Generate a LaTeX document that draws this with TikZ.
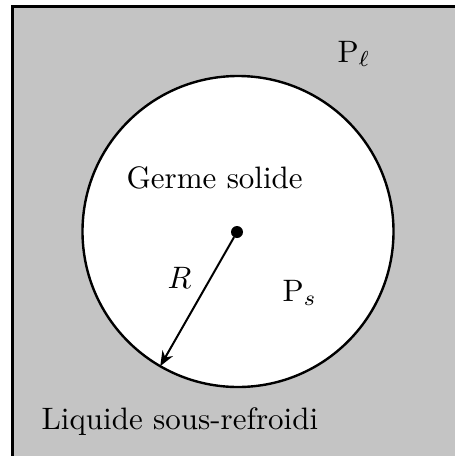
\documentclass[tikz,border=0pt]{standalone}
\usetikzlibrary{arrows.meta}
\begin{document}
\begin{tikzpicture}[x=1pt,y=-1pt,
  lbl/.style={anchor=base west,inner sep=0pt,font=\fontsize{10}{12}\selectfont,scale=3.1,transform shape},
  germbox/.style={circle,draw,line width=2.4pt,fill=white,minimum size=311pt,inner sep=0pt,outer sep=0pt},
  dotnode/.style={circle,fill=black,minimum size=12pt,inner sep=0pt,outer sep=0pt},
  radius arrow/.style={line width=2pt,-{Stealth[length=15pt,width=12pt]}}]
\useasboundingbox (0,0) rectangle (455,456);
\clip (0,0) rectangle (455,456);
\draw[line width=3pt,fill=black!23] (12,6) rectangle (480,480);
\node[germbox] (germ) at (238,231.5) {};
\node[dotnode] (c) at (237,232) {};
\draw[radius arrow] (c) -- (germ.-120);
\node[lbl] (gs) at (126,188) {Germe solide};
\node[lbl] (liq) at (41,429) {Liquide sous-refroidi};
\node[lbl] (pl) at (337,62) {P$_\ell$};
\node[lbl] (ps) at (282,301) {P$_s$};
\node[lbl] (r) at (167,288) {$R$};
\end{tikzpicture}
\end{document}
